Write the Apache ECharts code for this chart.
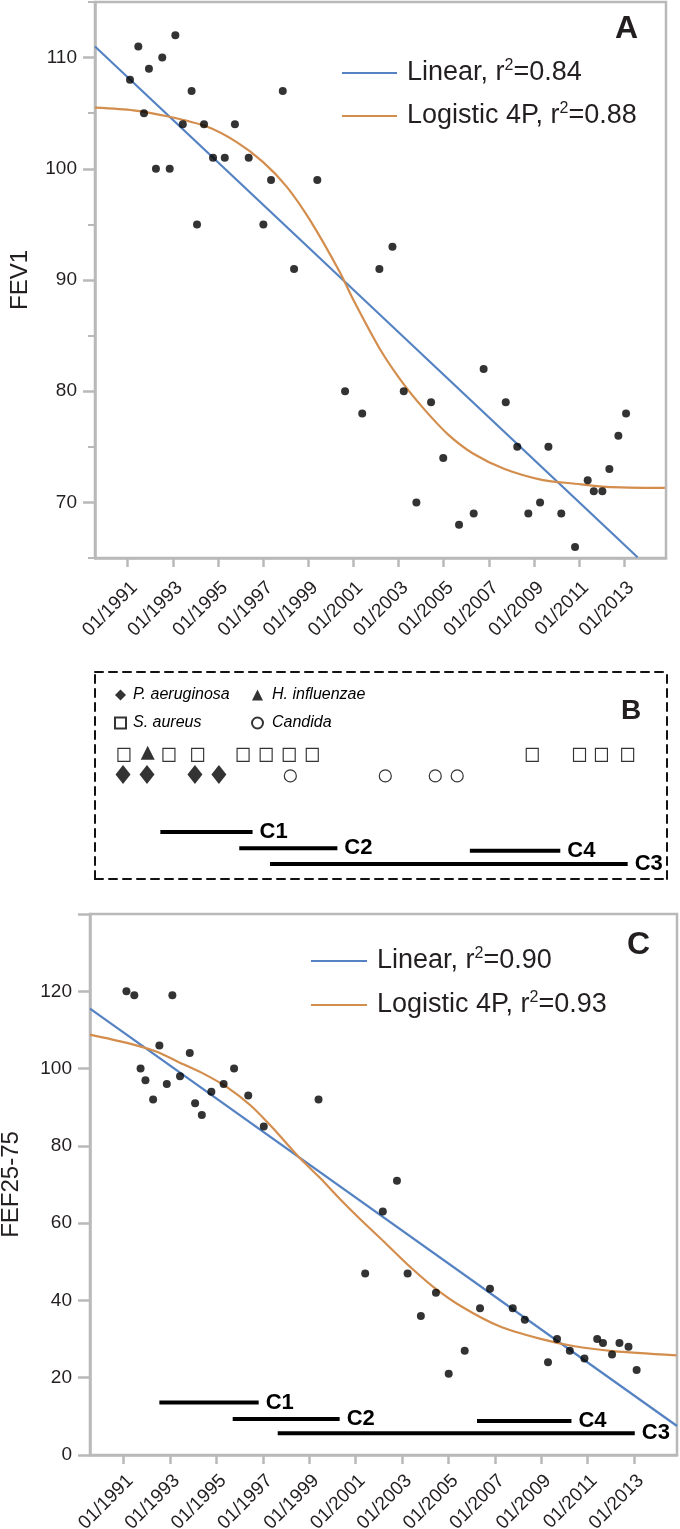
<!DOCTYPE html>
<html>
<head>
<meta charset="utf-8">
<script src="https://cdn.jsdelivr.net/npm/echarts@6/dist/echarts.min.js"></script>
<style>
html,body{margin:0;padding:0;background:#fff}
#chart{width:680px;height:1529px}
</style>
</head>
<body>
<div id="chart"></div>
<script>
// ---------- tick labels ----------
const xTickYears = [1991, 1993, 1995, 1997, 1999, 2001, 2003, 2005, 2007, 2009, 2011, 2013];
const fevYLabels = [70, 80, 90, 100, 110];
const fevYMinorTicks = [65, 75, 85, 95, 105, 115];
const fefYLabels = [0, 20, 40, 60, 80, 100, 120];
const fefYTicks = [0, 20, 40, 60, 80, 100, 120, 140];

// ---------- Panel A: FEV1 ----------
const fevDates = [1991.10, 1991.47, 1991.72, 1991.94, 1992.25, 1992.53, 1992.86, 1993.11, 1993.44, 1993.83,
  1994.07, 1994.38, 1994.78, 1995.30, 1995.75, 1996.36, 1997.01, 1997.35, 1997.87, 1998.37,
  1999.40, 2000.63, 2001.39, 2002.15, 2002.73, 2003.23, 2003.79, 2004.44, 2004.98, 2005.68,
  2006.33, 2006.77, 2007.75, 2008.26, 2008.75, 2009.27, 2009.64, 2010.21, 2010.82, 2011.38,
  2011.65, 2012.03, 2012.34, 2012.74, 2013.08];
const fevValues = [108, 111, 105, 109, 100, 110, 100, 112, 104, 107,
  95, 104, 101, 101, 104, 101, 95, 99, 107, 91,
  99, 80, 78, 91, 93, 80, 70, 79, 74, 68,
  69, 82, 79, 75, 69, 70, 75, 69, 66, 72,
  71, 71, 73, 76, 78];
const fevLinearDates = [1989.55, 2013.59];
const fevLinearValues = [111.0, 65.07];
const fevLogisticDates = [1989.55, 1991.25, 1992.8, 1994.5, 1995.83, 1997.0, 1998.04, 1999.07, 2000.4, 2001.0,
  2002.2, 2003.2, 2004.17, 2005.2, 2006.3, 2007.7, 2009.4, 2010.74, 2012.2, 2014.8];
const fevLogisticValues = [105.5, 105.26, 104.7, 103.8, 102.4, 100.6, 98.4, 95.4, 90.7, 88.2,
  83.7, 80.7, 78.3, 76.1, 74.4, 73.0, 72.0, 71.7, 71.4, 71.3];

// ---------- Panel B: microbiology ----------
const bSAureusDates = [1990.83, 1992.82, 1994.09, 1996.10, 1997.12, 1998.14, 1999.16, 2008.89, 2010.98, 2011.95, 2013.11];
const bHInfluenzaeDates = [1991.88];
const bPAeruginosaDates = [1990.79, 1991.85, 1993.97, 1995.03];
const bCandidaDates = [1998.19, 2002.39, 2004.6, 2005.57];
const courseNames = ['C1', 'C2', 'C3', 'C4'];
const bCourseStart = [1992.44, 1995.93, 1997.29, 2006.13];
const bCourseEnd = [1996.52, 2000.27, 2013.11, 2010.13];
const bCourseLevel = [2.27, 1.48, 0.72, 1.36];

// ---------- Panel C: FEF25-75 ----------
const fefDates = [1991.12, 1991.46, 1991.73, 1991.94, 1992.27, 1992.54, 1992.86, 1993.10, 1993.43, 1993.85,
  1994.08, 1994.37, 1994.78, 1995.31, 1995.76, 1996.37, 1997.04, 1999.40, 2001.41, 2002.17,
  2002.78, 2003.24, 2003.81, 2004.46, 2005.01, 2005.70, 2006.36, 2006.79, 2007.77, 2008.29,
  2009.29, 2009.68, 2010.23, 2010.86, 2011.41, 2011.66, 2012.05, 2012.37, 2012.76, 2013.11];
const fefValues = [120, 119, 100, 97, 92, 106, 96, 119, 98, 104,
  91, 88, 94, 96, 100, 93, 85, 92, 47, 63,
  71, 47, 36, 42, 21, 27, 38, 43, 38, 35,
  24, 30, 27, 25, 30, 29, 26, 29, 28, 22];
const fefLinearDates = [1989.55, 2014.85];
const fefLinearValues = [115.5, 7.5];
const fefLogisticDates = [1989.55, 1991.1, 1992.4, 1993.4, 1994.5, 1995.5, 1996.5, 1997.43, 1998.58, 1999.5,
  2000.3, 2001.2, 2002.2, 2003.2, 2004.33, 2005.6, 2007.2, 2008.93, 2010.37, 2012.1, 2014.83];
const fefLogisticValues = [108.8, 106.7, 104.4, 101.6, 98.5, 95.0, 90.3, 84.6, 76.9, 71.5,
  66.4, 61.0, 55.3, 49.5, 43.6, 38.3, 33.3, 30.1, 28.2, 26.9, 25.8];
const cCourseStart = [1992.54, 1995.70, 1997.64, 2006.23];
const cCourseEnd = [1996.82, 2000.31, 2013.03, 2010.30];
const cCourseLevel = [13.6, 9.3, 5.6, 8.8];

const legendNamesA = ['Linear, r²=0.84', 'Logistic 4P, r²=0.88'];
const legendNamesC = ['Linear, r²=0.90', 'Logistic 4P, r²=0.93'];
const microbeNames = ['P. aeruginosa', 'S. aureus', 'H. influenzae', 'Candida'];

// ---------- build ----------
const FONT = '"Liberation Sans", Arial, Helvetica, sans-serif';
const X_MIN = 1989.55, X_MAX = 2014.85;
const AXIS_GREY = '#b9b9b9';
const BLUE = '#5482c2';
const ORANGE = '#d38d4d';
const TXT = '#231f20';
const zip = (a, b) => a.map((v, i) => [v, b[i]]);

function dateXAxis(gridIndex, margin) {
  return {
    type: 'value', gridIndex, min: X_MIN, max: X_MAX,
    axisLine: { show: true, lineStyle: { color: AXIS_GREY, width: 2.5 } },
    axisTick: { show: true, length: 9, customValues: xTickYears, lineStyle: { color: AXIS_GREY, width: 2.5 } },
    axisLabel: { show: true, customValues: xTickYears, rotate: 45, margin, fontSize: 19, color: TXT,
      verticalAlign: 'top', fontFamily: FONT, formatter: v => '01/' + v },
    splitLine: { show: false }
  };
}
function dashedAxis(gridIndex, position, min, max) {
  return {
    type: 'value', gridIndex, position, min, max,
    axisLine: { show: true, onZero: false, lineStyle: { color: '#111', width: 2, type: [8, 6] } },
    axisTick: { show: false }, axisLabel: { show: false }, splitLine: { show: false }
  };
}
const legendText = {
  fontSize: 27, lineHeight: 30, color: TXT, fontFamily: FONT, padding: [0, 0, 0, 5],
  rich: { sup: { fontSize: 16, lineHeight: 16, verticalAlign: 'top', color: TXT, fontFamily: FONT } }
};
const supFormatter = n => n.replace('²', '{sup|2}');

function courseSeries(names, starts, ends, levels, xi, yi) {
  return names.map((n, i) => ({
    name: n, type: 'line', xAxisIndex: xi, yAxisIndex: yi, symbol: 'none',
    lineStyle: { color: '#000', width: 4 },
    data: [[starts[i], levels[i]], [ends[i], levels[i]]],
    endLabel: { show: true, formatter: '{a}', distance: 7, fontSize: 22, fontWeight: 'bold', color: '#000', fontFamily: FONT },
    z: 3
  }));
}

const option = {
  animation: false,
  backgroundColor: '#fff',
  textStyle: { fontFamily: FONT },
  title: [
    { text: 'A', left: 615, top: 13, padding: 0, textStyle: { fontSize: 32, fontWeight: 'bold', color: TXT, fontFamily: FONT } },
    { text: 'B', left: 621, top: 697, padding: 0, textStyle: { fontSize: 28, fontWeight: 'bold', color: TXT, fontFamily: FONT } },
    { text: 'C', left: 627, top: 929, padding: 0, textStyle: { fontSize: 32, fontWeight: 'bold', color: TXT, fontFamily: FONT } }
  ],
  grid: [
    { left: 95, right: 14, top: 2, height: 556, show: true, borderColor: AXIS_GREY, borderWidth: 2.5,
      containLabel: false, outerBoundsMode: 'none' },
    { left: 90, right: 3, top: 914, height: 541, show: true, borderColor: AXIS_GREY, borderWidth: 2.5,
      containLabel: false, outerBoundsMode: 'none' },
    { left: 95, right: 13, top: 672, height: 207, show: false, containLabel: false, outerBoundsMode: 'none' }
  ],
  legend: [
    { data: legendNamesA, left: 342, top: 58, padding: 0, orient: 'vertical', icon: 'rect', itemWidth: 55, itemHeight: 2.2, itemGap: 13,
      textStyle: legendText, formatter: supFormatter, selectedMode: false },
    { data: legendNamesC, left: 311, top: 946, padding: 0, orient: 'vertical', icon: 'rect', itemWidth: 56, itemHeight: 2.2, itemGap: 14,
      textStyle: legendText, formatter: supFormatter, selectedMode: false },
    { data: [microbeNames[0], microbeNames[1]], left: 114, top: 687, padding: 0, orient: 'vertical', itemWidth: 11, itemHeight: 11, itemGap: 12,
      textStyle: { fontSize: 16, fontStyle: 'italic', color: '#000', fontFamily: FONT, padding: [0, 0, 0, 2] }, selectedMode: false },
    { data: [microbeNames[2], microbeNames[3]], left: 251, top: 687, padding: 0, orient: 'vertical', itemWidth: 11, itemHeight: 11, itemGap: 12,
      textStyle: { fontSize: 16, fontStyle: 'italic', color: '#000', fontFamily: FONT, padding: [0, 0, 0, 4] }, selectedMode: false }
  ],
  xAxis: [
    dateXAxis(0, 20),
    dateXAxis(1, 16),
    dashedAxis(2, 'bottom', X_MIN, X_MAX),
    dashedAxis(2, 'top', X_MIN, X_MAX)
  ],
  yAxis: [
    { type: 'value', gridIndex: 0, position: 'left', min: 65, max: 115,
      name: 'FEV1', nameLocation: 'middle', nameGap: 63,
      nameTextStyle: { fontSize: 24, color: TXT, fontFamily: FONT },
      axisLine: { show: true, lineStyle: { color: AXIS_GREY, width: 2.5 } },
      axisTick: { show: true, length: 7, customValues: fevYMinorTicks, lineStyle: { color: AXIS_GREY, width: 2 } },
      axisLabel: { show: true, customValues: fevYLabels, margin: 18, fontSize: 19, color: TXT, fontFamily: FONT },
      splitLine: { show: false } },
    { type: 'value', gridIndex: 0, position: 'left', min: 65, max: 115,
      axisLine: { show: false },
      axisTick: { show: true, length: 12, customValues: fevYLabels, lineStyle: { color: AXIS_GREY, width: 2.5 } },
      axisLabel: { show: false }, splitLine: { show: false } },
    { type: 'value', gridIndex: 1, position: 'left', min: 0, max: 140,
      name: 'FEF25-75', nameLocation: 'middle', nameGap: 67,
      nameTextStyle: { fontSize: 24, color: TXT, fontFamily: FONT },
      axisLine: { show: true, lineStyle: { color: AXIS_GREY, width: 2.5 } },
      axisTick: { show: true, length: 12, customValues: fefYTicks, lineStyle: { color: AXIS_GREY, width: 2.5 } },
      axisLabel: { show: true, customValues: fefYLabels, margin: 18, fontSize: 19, color: TXT, fontFamily: FONT },
      splitLine: { show: false } },
    dashedAxis(2, 'left', 0, 10),
    dashedAxis(2, 'right', 0, 10)
  ],
  series: [
    // Panel A
    { name: 'FEV1 data', type: 'scatter', xAxisIndex: 0, yAxisIndex: 0, symbolSize: 8,
      itemStyle: { color: '#000' }, data: zip(fevDates, fevValues), z: 4 },
    { name: legendNamesA[0], type: 'line', xAxisIndex: 0, yAxisIndex: 0, symbol: 'none',
      lineStyle: { color: BLUE, width: 2.2 }, itemStyle: { color: BLUE }, data: zip(fevLinearDates, fevLinearValues) },
    { name: legendNamesA[1], type: 'line', xAxisIndex: 0, yAxisIndex: 0, symbol: 'none', smooth: 0.25,
      lineStyle: { color: ORANGE, width: 2.2 }, itemStyle: { color: ORANGE }, data: zip(fevLogisticDates, fevLogisticValues) },
    // Panel C
    { name: 'FEF data', type: 'scatter', xAxisIndex: 1, yAxisIndex: 2, symbolSize: 8,
      itemStyle: { color: '#000' }, data: zip(fefDates, fefValues), z: 4 },
    { name: legendNamesC[0], type: 'line', xAxisIndex: 1, yAxisIndex: 2, symbol: 'none',
      lineStyle: { color: BLUE, width: 2.2 }, itemStyle: { color: BLUE }, data: zip(fefLinearDates, fefLinearValues) },
    { name: legendNamesC[1], type: 'line', xAxisIndex: 1, yAxisIndex: 2, symbol: 'none', smooth: 0.25,
      lineStyle: { color: ORANGE, width: 2.2 }, itemStyle: { color: ORANGE }, data: zip(fefLogisticDates, fefLogisticValues) },
    // Panel B microbes
    { name: microbeNames[0], type: 'scatter', xAxisIndex: 2, yAxisIndex: 3, symbol: 'diamond', symbolSize: [15, 19],
      itemStyle: { color: '#000' }, data: bPAeruginosaDates.map(d => [d, 5.05]) },
    { name: microbeNames[1], type: 'scatter', xAxisIndex: 2, yAxisIndex: 3, symbol: 'rect', symbolSize: [12, 13],
      itemStyle: { color: '#fff', borderColor: '#000', borderWidth: 1.2 }, data: bSAureusDates.map(d => [d, 6.0]) },
    { name: microbeNames[2], type: 'scatter', xAxisIndex: 2, yAxisIndex: 3, symbol: 'triangle', symbolSize: 14,
      itemStyle: { color: '#000' }, data: bHInfluenzaeDates.map(d => [d, 6.1]) },
    { name: microbeNames[3], type: 'scatter', xAxisIndex: 2, yAxisIndex: 3, symbol: 'circle', symbolSize: 12,
      itemStyle: { color: '#fff', borderColor: '#000', borderWidth: 1.2 }, data: bCandidaDates.map(d => [d, 4.98]) },
    ...courseSeries(courseNames, bCourseStart, bCourseEnd, bCourseLevel, 2, 3),
    ...courseSeries(courseNames, cCourseStart, cCourseEnd, cCourseLevel, 1, 2)
  ]
};

const chart = echarts.init(document.getElementById('chart'), null, { renderer: 'canvas', width: 680, height: 1529 });
chart.setOption(option);
</script>
</body>
</html>
